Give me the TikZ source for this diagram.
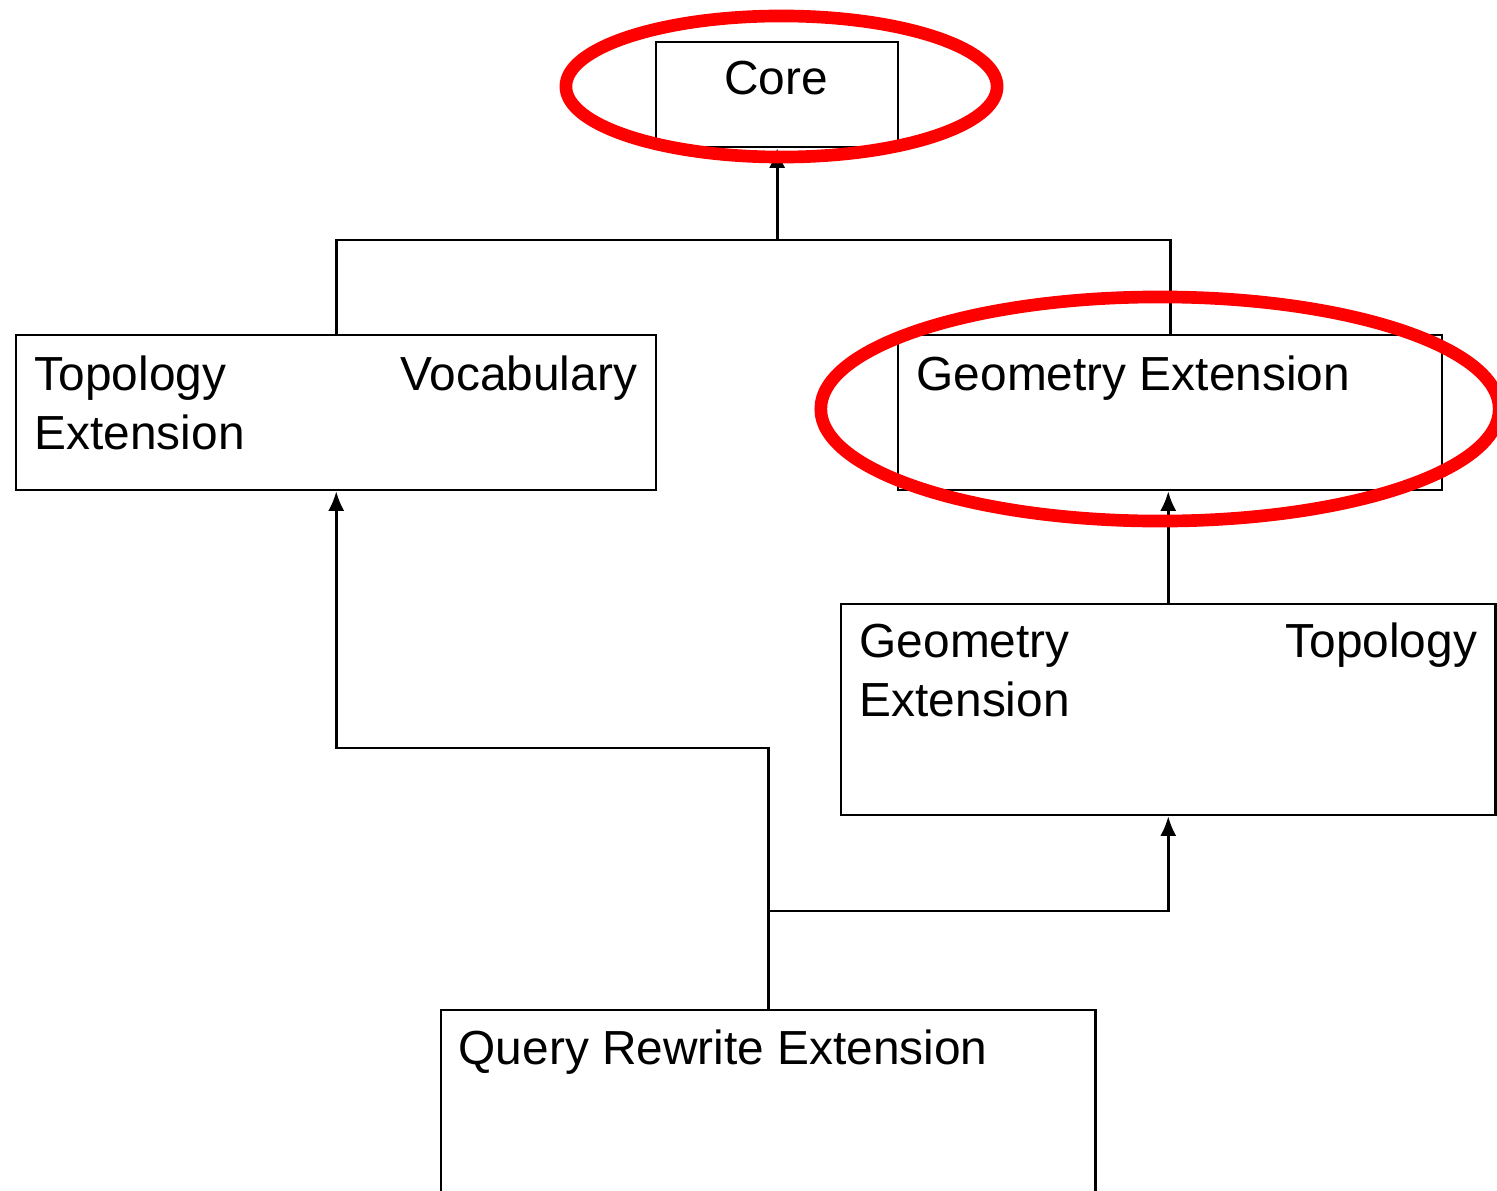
\documentclass[tikz,border=0pt]{standalone}
\usepackage{fontspec}
\setmainfont{Liberation Sans}
\usetikzlibrary{arrows.meta}

\begin{document}
\begin{tikzpicture}[x=0.01cm, y=-0.01cm, >={Latex[length=5.6pt,width=4.6pt]},
    font=\fontsize{13.6}{16.6}\selectfont,
    box/.style={draw, line width=0.6pt, inner sep=0pt, anchor=north west},
    txt/.style={inner sep=0pt, anchor=base west, align=left},
    wire/.style={line width=0.8pt},
    ring/.style={draw=red, line width=3.6pt}]
          \useasboundingbox (0,0) rectangle (1497,1191);
          \clip (0,0) rectangle (1497,1191);
          % boxes
          \node[box, minimum width=2.42cm, minimum height=1.05cm] (core) at (655,41) {};
          \node[box, minimum width=6.40cm, minimum height=1.55cm] (topo) at (15,334) {};
          \node[box, minimum width=5.44cm, minimum height=1.55cm] (gext) at (897,334) {};
          \node[box, minimum width=6.54cm, minimum height=2.11cm] (gtopo) at (840,603) {};
          \node[box, minimum width=6.54cm, minimum height=2.30cm] (query) at (440,1009) {};
          % texts (base = last line)
          \node[txt, anchor=base] (coreT) at (776,95) {Core};
          \node[txt] (topoT) at (34,449)
            {\makebox[6.02cm][l]{Topology\hfill Vocabulary}\\Extension};
          \node[txt] (gextT) at (916,390) {Geometry Extension};
          \node[txt] (gtopoT) at (859,716)
            {\makebox[6.17cm][l]{Geometry\hfill Topology}\\Extension};
          \node[txt] (queryT) at (458,1064) {Query Rewrite Extension};
          % imports
          \coordinate (hub) at (core.south |- 0,240);
          \draw[wire] (topo.north) -- (topo.north |- hub) -- (gext.north |- hub) -- (gext.north);
          \draw[wire, ->] (hub) -- (core.south);
          \draw[wire, ->] (gtopo.north) -- (gtopo.north |- gext.south);
          \coordinate (qup) at (query.north |- 0,748);
          \coordinate (qmid) at (query.north |- 0,911);
          \draw[wire, ->] (query.north) -- (qup) -| (topo.south);
          \draw[wire, ->] (qmid) -| (gtopo.south);
          % highlights
          \draw[ring] (781.5,86.5) ellipse (2.155cm and 0.705cm);
          \draw[ring] (1160,409) ellipse (3.39cm and 1.12cm);
\end{tikzpicture}
\end{document}
